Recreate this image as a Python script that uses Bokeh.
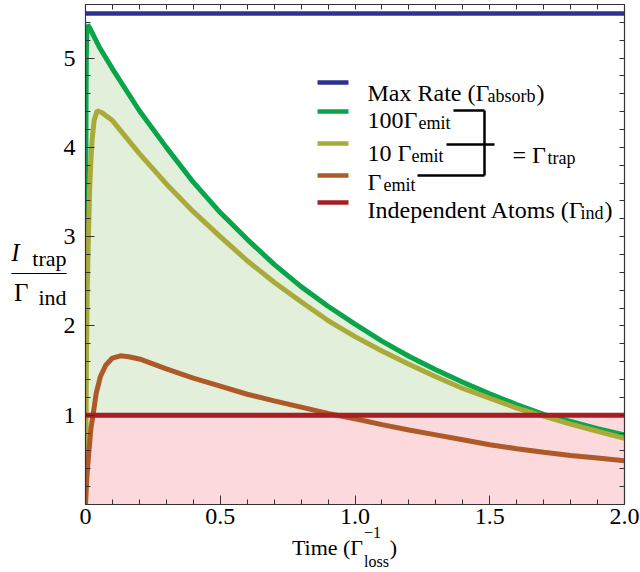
import numpy as np
from bokeh.plotting import figure
from bokeh.models import Range1d, LinearAxis, FixedTicker, Label
from bokeh.embed import file_html
from bokeh.resources import INLINE

# ---------------- data ----------------
t_100 = [0, 0.0005, 0.001, 0.0015, 0.002, 0.003, 0.005, 0.008, 0.015, 0.05, 0.1,
         0.2, 0.3, 0.4, 0.5, 0.6, 0.7, 0.8, 0.9, 1.0, 1.1, 1.2, 1.3, 1.4, 1.5,
         1.6, 1.7, 1.8, 1.9, 2.0]
rate_100 = [0, 1.5, 2.8, 3.8, 4.5, 5.0, 5.3, 5.37, 5.34, 5.13, 4.88,
            4.41, 4.00, 3.61, 3.27, 2.97, 2.69, 2.44, 2.22, 2.02, 1.83, 1.66, 1.51, 1.37, 1.24,
            1.12, 1.01, 0.93, 0.85, 0.78]

t_10 = [0, 0.003, 0.006, 0.01, 0.015, 0.02, 0.025, 0.032, 0.043, 0.06, 0.1,
        0.2, 0.3, 0.4, 0.5, 0.6, 0.7, 0.8, 0.9, 1.0, 1.1, 1.2, 1.3, 1.4, 1.5,
        1.6, 1.7, 1.8, 1.9, 2.0]
rate_10 = [0, 1.5, 2.3, 2.9, 3.5, 3.85, 4.1, 4.3, 4.41, 4.39, 4.30,
           3.93, 3.59, 3.28, 3.00, 2.73, 2.49, 2.27, 2.06, 1.88, 1.72, 1.57, 1.43, 1.30, 1.19,
           1.08, 0.99, 0.90, 0.82, 0.74]

t_1 = [0, 0.005, 0.01, 0.02, 0.028, 0.04, 0.055, 0.075, 0.1, 0.13, 0.16, 0.2,
       0.3, 0.4, 0.5, 0.6, 0.7, 0.8, 0.9, 1.0, 1.1, 1.2, 1.3, 1.4, 1.5,
       1.6, 1.7, 1.8, 1.9, 2.0]
rate_1 = [0, 0.3, 0.5, 0.85, 1.0, 1.25, 1.43, 1.56, 1.64, 1.665, 1.655, 1.63,
          1.52, 1.415, 1.325, 1.235, 1.16, 1.09, 1.02, 0.96, 0.895, 0.835, 0.78, 0.725, 0.67,
          0.625, 0.585, 0.55, 0.52, 0.49]

max_rate = 5.5
independent = 1.0
t_span = [0.0, 2.0]

x_ticks = [0, 0.5, 1.0, 1.5, 2.0]
x_tick_labels = ["0", "0.5", "1.0", "1.5", "2.0"]
y_ticks = [1, 2, 3, 4, 5]
y_tick_labels = ["1", "2", "3", "4", "5"]

# ---------------- styles ----------------
C_BLUE = "#2e3192"
C_GREEN = "#0aa54b"
C_YELLOW = "#a9aa39"
C_BROWN = "#ad5a28"
C_RED = "#a61e26"
F_PINK = "#fbd9dc"
F_GREEN = "#e2efda"
SERIF = "Liberation Serif"
AX_COLOR = "#333333"

W, H = 640, 572
L, R, T, B = 85, 624, 4, 504
XMAX, YMAX = 2.0, 5.6


def X(px):
    return round((px - L) / (R - L) * XMAX, 5)


def Y(py):
    return round((B - py) / (B - T) * YMAX, 5)


p = figure(width=W, height=H, x_range=Range1d(0, XMAX), y_range=Range1d(0, YMAX),
           output_backend="svg", toolbar_location=None,
           x_axis_location=None, y_axis_location=None,
           min_border_left=L, min_border_right=W - R,
           min_border_top=T, min_border_bottom=H - B)
p.xgrid.visible = False
p.ygrid.visible = False
p.outline_line_color = None
p.background_fill_color = "white"
p.border_fill_color = "white"

x_minor = [i / 10 for i in range(0, 21)]
y_minor = [i / 5 for i in range(0, 29)]


def frame_axis(kind, labels):
    ax = LinearAxis()
    if labels:
        if kind == "x":
            ax.ticker = FixedTicker(ticks=x_ticks, minor_ticks=x_minor)
            ax.major_label_overrides = {float(k): v for k, v in zip(x_ticks, x_tick_labels)}
        else:
            ax.ticker = FixedTicker(ticks=y_ticks, minor_ticks=y_minor)
            ax.major_label_overrides = {float(k): v for k, v in zip(y_ticks, y_tick_labels)}
    else:
        ax.ticker = FixedTicker(ticks=[], minor_ticks=x_minor if kind == "x" else y_minor)
    ax.major_tick_in = 9
    ax.major_tick_out = 0
    ax.minor_tick_in = 5
    ax.minor_tick_out = 0
    ax.axis_line_color = AX_COLOR
    ax.major_tick_line_color = AX_COLOR
    ax.minor_tick_line_color = AX_COLOR
    ax.axis_line_width = 1.2
    ax.major_label_text_font = SERIF
    ax.major_label_text_font_size = "24px"
    ax.major_label_text_color = "black"
    ax.major_label_standoff = 10 if kind == "y" else 4
    return ax


def text_axis(side, pos_px, texts, size, standoff, style="normal"):
    """An axis with no line or ticks whose tick labels carry label text."""
    ax = LinearAxis()
    conv = X if side in ("below", "above") else Y
    ticks = [conv(v) for v in pos_px]
    ax.ticker = FixedTicker(ticks=ticks, minor_ticks=[])
    ax.major_label_overrides = {t: s for t, s in zip(ticks, texts)}
    ax.axis_line_color = None
    ax.major_tick_line_color = None
    ax.minor_tick_line_color = None
    ax.major_tick_in = 0
    ax.major_tick_out = 0
    ax.minor_tick_in = 0
    ax.minor_tick_out = 0
    ax.major_label_standoff = standoff
    ax.major_label_text_font = SERIF
    ax.major_label_text_font_size = f"{size}px"
    ax.major_label_text_font_style = style
    ax.major_label_text_color = "black"
    p.add_layout(ax, side)


p.add_layout(frame_axis("x", True), "below")
p.add_layout(frame_axis("y", True), "left")
p.add_layout(frame_axis("x", False), "above")
p.add_layout(frame_axis("y", False), "right")

# x axis title: Time (Γ^{-1}_{loss})
text_axis("below", [372], ["\u22121"], 16, 0)
text_axis("below", [327, 393], ["Time (\u0393", ")"], 22, -6)
text_axis("below", [376], ["loss"], 16, -10)

# y axis title: I_trap / Γ_ind  (stacked outward from the frame)
text_axis("left", [257.5, 271, 297], ["trap", "\u2014\u2014\u2013", "ind"], 22, -6)
text_axis("left", [291.5], ["\u0393"], 25, -20)
text_axis("left", [251.5], ["I"], 25, -11, style="italic")

# ---------------- fills ----------------
p.varea(x=t_span, y1=[0, 0], y2=[independent, independent], fill_color=F_PINK)
p.varea(x=t_100, y1=[independent] * len(t_100),
        y2=[max(v, independent) for v in rate_100], fill_color=F_GREEN)

# ---------------- curves ----------------
LW = 5
p.line(t_span, [max_rate, max_rate], line_color=C_BLUE, line_width=4.5)
p.line(t_100, rate_100, line_color=C_GREEN, line_width=LW)
p.line(t_10, rate_10, line_color=C_YELLOW, line_width=LW)
p.line(t_1, rate_1, line_color=C_BROWN, line_width=LW)
p.line(t_span, [independent, independent], line_color=C_RED, line_width=LW)

# ---------------- legend ----------------
leg_colors = [C_BLUE, C_GREEN, C_YELLOW, C_BROWN, C_RED]
leg_sample_y = [82, 111, 143, 175, 202]
p.segment(x0=[X(317)] * 5, x1=[X(348)] * 5,
          y0=[Y(v) for v in leg_sample_y], y1=[Y(v) for v in leg_sample_y],
          line_color=leg_colors, line_width=4.5)

# bracket
bx0 = [453, 446, 417, 484]
bx1 = [484, 494, 484, 484]
by0 = [110, 144, 175, 110]
by1 = [110, 144, 175, 175]
p.segment(x0=[X(v) for v in bx0], x1=[X(v) for v in bx1],
          y0=[Y(v) for v in by0], y1=[Y(v) for v in by1],
          line_color="black", line_width=2.5)


def lab(text, px, py, size, style="normal"):
    p.add_layout(Label(x=X(px), y=Y(py), text=text, text_font=SERIF,
                       text_font_size=f"{size}px", text_font_style=style,
                       text_baseline="alphabetic", text_align="left", text_color="black"))


MS, SS = 24, 18
# row 1
lab("Max Rate (\u0393", 367, 92, MS)
lab("absorb", 487, 95, SS)
lab(")", 536, 92, MS)
# row 2
lab("100\u0393", 367, 119, MS)
lab("emit", 418, 122, SS)
# row 3
lab("10 \u0393", 367, 152, MS)
lab("emit", 411, 155, SS)
# row 4
lab("\u0393", 367, 181, MS)
lab("emit", 383, 184, SS)
# row 5
lab("Independent Atoms (\u0393", 367, 209, MS)
lab("ind", 580, 212, SS)
lab(")", 604, 209, MS)
# = Gamma_trap
lab("= \u0393", 512, 154, MS)
lab("trap", 547, 157, SS)

open("out.html", "w").write(file_html(p, INLINE))
